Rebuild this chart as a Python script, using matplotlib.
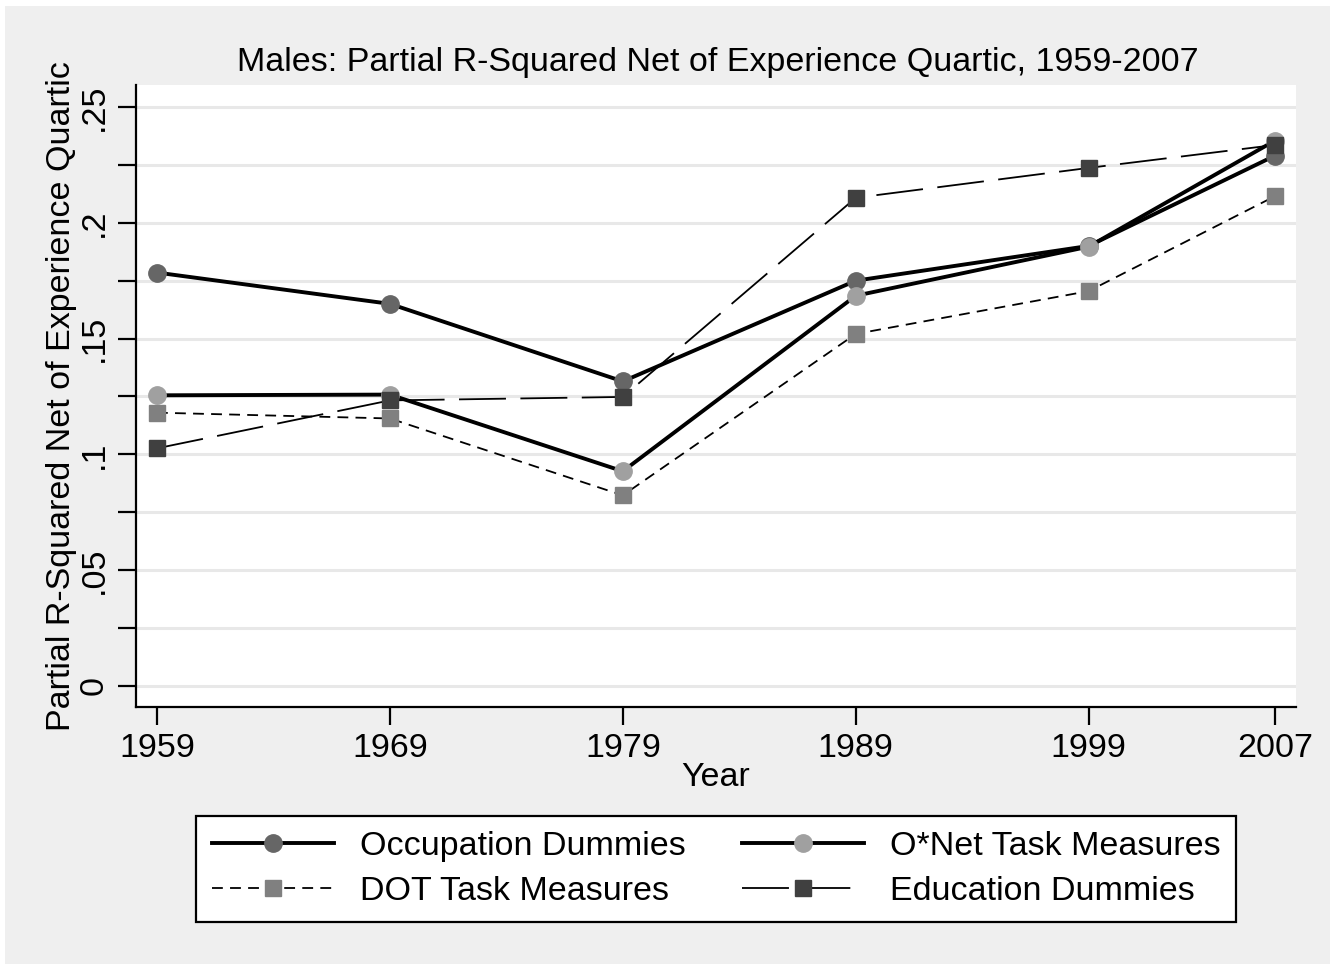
import numpy as np
import matplotlib
matplotlib.use("Agg")
import matplotlib.pyplot as plt

plt.rcParams['font.family'] = ['Liberation Sans', 'DejaVu Sans']

years = [1959, 1969, 1979, 1989, 1999, 2007]
occupation = [0.1785, 0.1650, 0.1315, 0.1750, 0.1900, 0.2290]
onet = [0.1255, 0.1258, 0.0927, 0.1685, 0.1897, 0.2355]
dot = [0.1180, 0.1155, 0.0823, 0.1520, 0.1705, 0.2115]
education = [0.1026, 0.1233, 0.1248, 0.2108, 0.2237, 0.2336]

ytick_vals = [0, 0.05, 0.1, 0.15, 0.2, 0.25]
ytick_labels = ["0", ".05", ".1", ".15", ".2", ".25"]
yminor_vals = [0.025, 0.075, 0.125, 0.175, 0.225]

W, H = 1333, 967
FS = 24.5
fig = plt.figure(figsize=(W / 100, H / 100), dpi=100)
fig.patch.set_facecolor('white')
# grey backdrop inside a thin white border
bg = plt.Rectangle((5 / W, 3 / H), 1 - 8 / W, 1 - 9 / H, transform=fig.transFigure,
                   facecolor='#efefef', edgecolor='none', zorder=-10)
fig.patches.append(bg)

ax = fig.add_axes([136 / W, 1 - 707 / H, (1296 - 136) / W, (707 - 85) / H])
ax.set_facecolor('white')

ax.set_xlim(1958.1, 2007.9)
ax.set_ylim(-0.0091, 0.2595)

for v in ytick_vals + yminor_vals:
    ax.axhline(v, color='#e8e8e8', lw=2.2, zorder=0)

h_occ, = ax.plot(years, occupation, color='black', lw=2.8, marker='o', ms=12.5,
                 mfc='#666666', mec='#666666', zorder=3, label='Occupation Dummies')
h_onet, = ax.plot(years, onet, color='black', lw=2.8, marker='o', ms=12.5,
                  mfc='#a0a0a0', mec='#a0a0a0', zorder=3, label='O*Net Task Measures')
h_dot, = ax.plot(years, dot, color='black', lw=1.3, ls=(0, (6, 4)), marker='s', ms=12,
                 mfc='#808080', mec='#808080', zorder=3, label='DOT Task Measures')
h_edu, = ax.plot(years, education, color='black', lw=1.3, ls=(0, (26, 8)), marker='s', ms=12,
                 mfc='#404040', mec='#404040', zorder=3, label='Education Dummies')

for side in ['top', 'right']:
    ax.spines[side].set_visible(False)
for side in ['left', 'bottom']:
    ax.spines[side].set_linewidth(1.6)

ax.set_xticks(years)
ax.set_xticklabels([str(y) for y in years], fontsize=FS)
ax.set_yticks(ytick_vals)
ax.set_yticks(yminor_vals, minor=True)
ax.set_yticklabels(ytick_labels, fontsize=FS, rotation=90, va='center')
ax.tick_params(axis='both', which='both', length=13, width=1.6, pad=6)

ax.set_xlabel('Year', fontsize=FS, labelpad=-2)
ax.set_ylabel('Partial R-Squared Net of Experience Quartic', fontsize=FS, labelpad=1.5)
fig.text(718 / W, 1 - 62 / H, 'Males: Partial R-Squared Net of Experience Quartic, 1959-2007',
         ha='center', va='center', fontsize=FS)

# row-major order: occupation / O*Net on top, DOT / education below
leg = fig.legend([h_occ, h_dot, h_onet, h_edu],
                 [h.get_label() for h in (h_occ, h_dot, h_onet, h_edu)],
                 ncol=2, loc='center', bbox_to_anchor=(716 / W, 1 - 869 / H), fontsize=FS,
                 frameon=True, fancybox=False, edgecolor='black', facecolor='white',
                 handlelength=3.6, columnspacing=1.65, labelspacing=0.4,
                 borderpad=0.45, handletextpad=0.75)
leg.get_frame().set_linewidth(1.6)
leg.get_frame().set_alpha(1)

fig.savefig('out.png', dpi=100, facecolor=fig.get_facecolor())
